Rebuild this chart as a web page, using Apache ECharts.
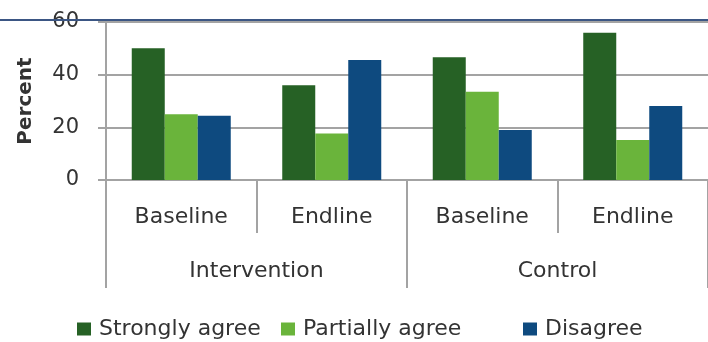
<!DOCTYPE html>
<html>
<head>
<meta charset="utf-8">
<script src="https://cdn.jsdelivr.net/npm/echarts@6/dist/echarts.min.js"></script>
<style>
  html, body { margin: 0; padding: 0; background: #fff; }
  #main { width: 708px; height: 342px; }
</style>
</head>
<body>
<div id="main"></div>
<script>
// data
var periods = ['Baseline', 'Endline', 'Baseline', 'Endline'];
var groups = ['Intervention', 'Control'];
var stronglyAgree = [50.0, 36.0, 46.6, 55.9];
var partiallyAgree = [25.0, 17.7, 33.5, 15.2];
var disagree = [24.4, 45.6, 19.0, 28.1];
var yTicks = [0, 20, 40, 60];

var chart = echarts.init(document.getElementById('main'));

var font = 'DejaVu Sans';
var textColor = '#333';
var grayLine = '#a3a3a3';

function legendAt(name, left) {
    return {
        data: [name],
        left: left,
        top: 318,
        padding: 0,
        itemWidth: 14,
        itemHeight: 13,
        itemGap: 8,
        icon: 'rect',
        textStyle: { fontFamily: font, fontSize: 22, color: textColor, padding: [0, 0, 0, 3] }
    };
}

var option = {
    animation: false,
    backgroundColor: '#fff',
    color: ['#266125', '#6ab43b', '#0e4a7f'],
    legend: [
        legendAt('Strongly agree', 77),
        legendAt('Partially agree', 281),
        legendAt('Disagree', 523)
    ],
    grid: { left: 106, top: 22, width: 603, height: 158 },
    xAxis: [
        {
            type: 'category',
            data: periods,
            axisLine: { lineStyle: { color: grayLine, width: 2 } },
            axisTick: { show: true, interval: 0, length: 53, lineStyle: { color: grayLine, width: 2 } },
            axisLabel: { margin: 26, fontFamily: font, fontSize: 22, color: textColor },
            splitLine: { show: false }
        },
        {
            type: 'category',
            data: groups,
            position: 'bottom',
            axisLine: { show: false },
            axisTick: { show: true, interval: 0, length: 108, lineStyle: { color: grayLine, width: 2 } },
            axisLabel: { margin: 80, fontFamily: font, fontSize: 22, color: textColor },
            splitLine: { show: false }
        }
    ],
    yAxis: {
        type: 'value',
        min: yTicks[0],
        max: yTicks[yTicks.length - 1],
        interval: 20,
        name: 'Percent',
        nameLocation: 'middle',
        nameGap: 70,
        nameTextStyle: { fontFamily: font, fontSize: 20, fontWeight: 'bold', color: textColor },
        axisLine: { show: true, lineStyle: { color: grayLine, width: 2 } },
        axisTick: { show: true, length: 8, lineStyle: { color: grayLine, width: 2 } },
        axisLabel: { margin: 27, fontFamily: font, fontSize: 21, color: textColor },
        splitLine: { lineStyle: { color: grayLine, width: 2 } }
    },
    series: [
        { name: 'Strongly agree', type: 'bar', data: stronglyAgree, barWidth: 33, barGap: '0%' },
        { name: 'Partially agree', type: 'bar', data: partiallyAgree, barWidth: 33, barGap: '0%' },
        { name: 'Disagree', type: 'bar', data: disagree, barWidth: 33, barGap: '0%' }
    ],
    // navy rule across the top of the picture
    graphic: [{
        type: 'rect',
        shape: { x: 0, y: 19, width: 708, height: 2 },
        style: { fill: '#3b5684' },
        z: 100
    }]
};

chart.setOption(option);
</script>
</body>
</html>
